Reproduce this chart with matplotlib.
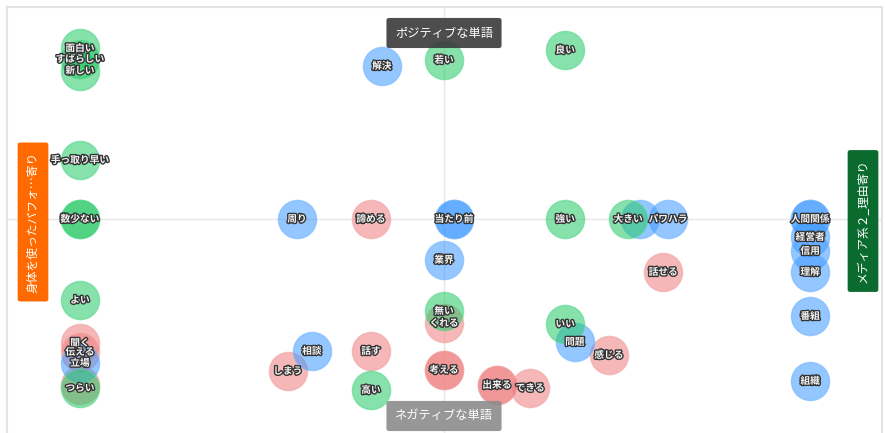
import matplotlib
matplotlib.use("Agg")
import matplotlib.pyplot as plt
import matplotlib.patheffects as pe

plt.rcParams['font.family'] = ['Noto Sans CJK JP', 'DejaVu Sans']

# --- data (correspondence-analysis style coordinates) ---
green_words = ["面白い", "すばらしい", "新しい", "手っ取り早い", "数少ない", "", "よい", "つらい",
               "若い", "良い", "強い", "大きい", "無い", "いい", "高い"]
green_x = [-0.832, -0.832, -0.832, -0.832, -0.832, -0.832, -0.832, -0.832,
           0.0, 0.277, 0.277, 0.421, 0.0, 0.277, -0.167]
green_y = [0.805, 0.755, 0.700, 0.278, 0.0, 0.0, -0.382, -0.797,
           0.75, 0.797, 0.0, 0.0, -0.434, -0.495, -0.807]

blue_words = ["解決", "周り", "当たり前", "", "業界", "パワハラ", "", "人間関係", "",
              "経営者", "信用", "理解", "番組", "組織", "相談", "問題", "立場"]
blue_x = [-0.142, -0.336, 0.023, 0.023, 0.0, 0.512, 0.448, 0.837, 0.837,
          0.837, 0.837, 0.837, 0.837, 0.837, -0.302, 0.299, -0.832]
blue_y = [0.722, 0.0, 0.0, 0.0, -0.193, 0.0, 0.0, 0.0, 0.0,
          -0.085, -0.151, -0.25, -0.458, -0.764, -0.623, -0.58, -0.679]

red_words = ["諦める", "話せる", "くれる", "話す", "しまう", "考える", "", "出来る", "",
             "できる", "感じる", "聞く", "伝える", ""]
red_x = [-0.167, 0.501, 0.0, -0.167, -0.357, 0.0, 0.0, 0.121, 0.121,
         0.197, 0.377, -0.832, -0.832, -0.832]
red_y = [0.0, -0.25, -0.491, -0.623, -0.717, -0.712, -0.712, -0.783, -0.783,
         -0.797, -0.642, -0.585, -0.627, -0.783]

top_label = "ポジティブな単語"
bottom_label = "ネガティブな単語"
left_label = "身体を使ったパフォ…寄り"
right_label = "メディア系２_理由寄り"

W, H = 885, 433
fig = plt.figure(figsize=(W / 100, H / 100), dpi=100)
ax = fig.add_axes([7 / W, 0 / H, (882 - 7) / W, (433 - 7) / H])
ax.set_xlim(-437 / 437.5, 438 / 437.5)
ax.set_ylim(-214 / 212, 212 / 212)
ax.set_xticks([])
ax.set_yticks([])
for s in ax.spines.values():
    s.set_color('#e3e3e3')
    s.set_linewidth(1.5)
ax.spines['bottom'].set_visible(False)

ax.axhline(0, color='#e6e6e6', lw=1, zorder=0)
ax.axvline(0, color='#e6e6e6', lw=1, zorder=0)

S = 760
stroke = [pe.withStroke(linewidth=2.0, foreground='#333333')]

def draw(xs, ys, words, face, edge, z):
    ax.scatter(xs, ys, s=S, c=face, alpha=0.55, edgecolors=edge, linewidths=1.0, zorder=z)
    for x, y, w in zip(xs, ys, words):
        if w:
            ax.text(x, y, w, ha='center', va='center', fontsize=7, color='#f4f4f4',
                    fontweight='bold', path_effects=stroke, zorder=10)

draw(red_x, red_y, red_words, '#ee7d7d', '#f2a0a0', 2)
draw(blue_x, blue_y, blue_words, '#3d99ff', '#6fb3ff', 3)
draw(green_x, green_y, green_words, '#25c964', '#4fd889', 4)

# axis direction labels
def px2data(px, py):
    return ((px - 444) / 437.5, (219 - py) / 212)

tx, ty = px2data(444, 33)
ax.text(tx, ty, top_label, ha='center', va='center', fontsize=8.8, color='white', zorder=20,
        bbox=dict(boxstyle='round,pad=0.7,rounding_size=0.2', fc='#3a3a3a', ec='none', alpha=0.9))
bx, by = px2data(444, 416)
ax.text(bx, by, bottom_label, ha='center', va='center', fontsize=8.8, color='white', zorder=20,
        bbox=dict(boxstyle='round,pad=0.7,rounding_size=0.2', fc='#8c8c8c', ec='none', alpha=0.9))
lx, ly = px2data(33, 222)
ax.text(lx, ly, left_label, ha='center', va='center', fontsize=8.5, color='white', rotation=90, zorder=20,
        bbox=dict(boxstyle='round,pad=0.75,rounding_size=0.2', fc='#ff6a00', ec='none'))
rx, ry = px2data(863, 221)
ax.text(rx, ry, right_label, ha='center', va='center', fontsize=8.5, color='white', rotation=90, zorder=20,
        bbox=dict(boxstyle='round,pad=0.75,rounding_size=0.2', fc='#0b6b2e', ec='none'))

fig.savefig('out.png', dpi=100)
